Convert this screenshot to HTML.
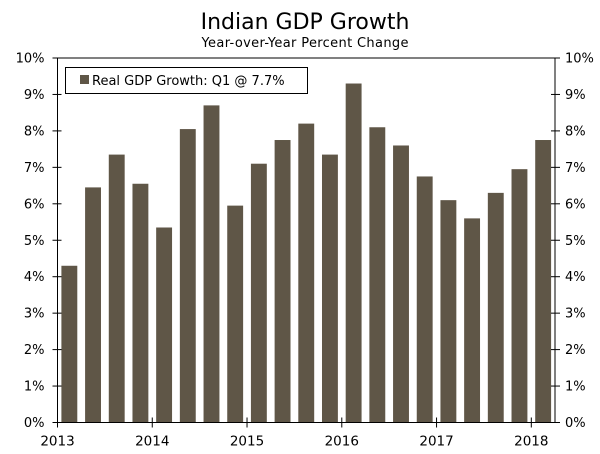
<!DOCTYPE html>
<html><head><meta charset="utf-8"><style>
html,body{margin:0;padding:0;background:#fff}
svg{display:block;font-family:"DejaVu Sans","Liberation Sans",sans-serif}
</style></head><body>
<svg id="chart" width="600" height="454">
<text x="305" y="29" text-anchor="middle" font-size="22" fill="#000">Indian GDP Growth</text>
<text x="305" y="47" text-anchor="middle" font-size="13" textLength="207" fill="#000">Year-over-Year Percent Change</text>
<g id="bars"></g>
<g id="axes"></g>
<g>
<rect x="65.5" y="67.5" width="242" height="26" fill="#fff" stroke="#000" stroke-width="1"/>
<rect x="80" y="75" width="9" height="9" fill="#5f5647"/>
<text x="92" y="85" font-size="13" fill="#000">Real GDP Growth: Q1 @ 7.7%</text>
</g>
</svg>
<script>
const values = [4.3,6.45,7.35,6.55,5.35,8.05,8.7,5.95,7.1,7.75,8.2,7.35,9.3,8.1,7.6,6.75,6.1,5.6,6.3,6.95,7.75];
const yTicks = [0,1,2,3,4,5,6,7,8,9,10];
const yearLabels = ["2013","2014","2015","2016","2017","2018"];
const NS="http://www.w3.org/2000/svg";
const X0=57.5,X1=555,Y0=422.5,Y1=58;
const slot=(X1-X0)/values.length;
const xs=i=>X0+i*slot;
const ys=v=>Y0-(v/10)*(Y0-Y1);
function mk(tag,attrs,parent){const e=document.createElementNS(NS,tag);for(const k in attrs)e.setAttribute(k,attrs[k]);parent.appendChild(e);return e;}
const bars=document.getElementById('bars'),axes=document.getElementById('axes');
values.forEach((v,i)=>{
  const r=mk('rect',{x:xs(i)+3.9,y:ys(v),width:slot-7.8,height:Y0-ys(v),fill:'#5f5647'},bars);
  
  
});
let l=mk('rect',{x:X0,y:Y1,width:X1-X0,height:Y0-Y1,fill:'none',stroke:'#000','stroke-width':1},axes);


yTicks.forEach(t=>{
  const y=ys(t);
  mk('line',{x1:X0-5,x2:X0+4,y1:y,y2:y,stroke:'#000'},axes);
  mk('line',{x1:X1-4,x2:X1+5,y1:y,y2:y,stroke:'#000'},axes);
  const a=mk('text',{x:X0-13,y:y+4.5,'text-anchor':'end','font-size':13},axes);a.textContent=t+'%';
  
  
  const b=mk('text',{x:X1+10,y:y+4.5,'font-size':13},axes);b.textContent=t+'%';
  
  
});
yearLabels.forEach((yr,k)=>{
  const x=xs(k*4);
  mk('line',{x1:x,x2:x,y1:Y0-5,y2:Y0+5,stroke:'#000'},axes);
  const t=mk('text',{x:x,y:Y0+23,'text-anchor':'middle','font-size':13.5},axes);t.textContent=yr;
  
  
});
</script>
</body></html>
